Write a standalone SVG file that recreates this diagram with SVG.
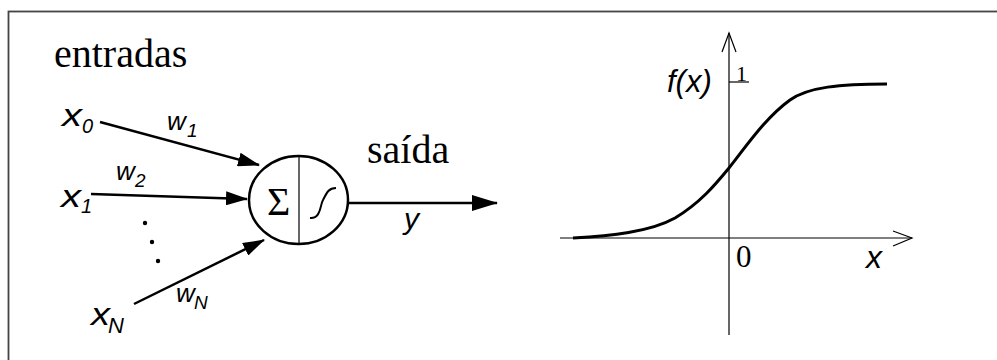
<svg xmlns="http://www.w3.org/2000/svg" width="997" height="360" viewBox="0 0 997 360">
<style>
.sans{font-family:"Liberation Sans",Arial,sans-serif;font-style:italic;fill:#000}
.serif{font-family:"Liberation Serif","Times New Roman",serif;fill:#000}
.conn{stroke:#000;stroke-width:2.5;fill:none}
.axis{stroke:#000;stroke-width:1.2;fill:none}
</style>
<defs>
<marker id="ah" markerUnits="userSpaceOnUse" markerWidth="22" markerHeight="14" refX="21" refY="7" orient="auto">
<path d="M0,0 L22,7 L0,14 z" fill="#000"/>
</marker>
<marker id="ahbig" markerUnits="userSpaceOnUse" markerWidth="26" markerHeight="16" refX="25" refY="8" orient="auto">
<path d="M0,0 L26,8 L0,16 z" fill="#000"/>
</marker>
</defs>
<rect x="0" y="0" width="997" height="360" fill="#fff"/>
<rect x="8.5" y="11.5" width="1000" height="400" fill="none" stroke="#444" stroke-width="1.8"/>

<g id="title-entradas"><text class="serif" x="54" y="67" font-size="40">entradas</text></g>

<g id="input-x0">
<text class="sans" x="62" y="126" font-size="31" textLength="20" lengthAdjust="spacingAndGlyphs">x</text>
<text class="sans" x="82" y="133" font-size="20">0</text>
</g>
<g id="input-x1">
<text class="sans" x="61" y="207" font-size="31" textLength="20" lengthAdjust="spacingAndGlyphs">x</text>
<text class="sans" x="81" y="213" font-size="20">1</text>
</g>
<g id="input-xN">
<text class="sans" x="91" y="325" font-size="31" textLength="19" lengthAdjust="spacingAndGlyphs">x</text>
<text class="sans" x="108" y="333" font-size="22">N</text>
</g>
<g id="dots">
<circle cx="145" cy="223" r="2.2" fill="#000"/>
<circle cx="152" cy="242" r="2.2" fill="#000"/>
<circle cx="158" cy="261" r="2.2" fill="#000"/>
</g>

<g id="connectors">
<line class="conn" x1="100" y1="122" x2="259" y2="165" marker-end="url(#ah)"/>
<line class="conn" x1="91" y1="194" x2="247" y2="199" marker-end="url(#ah)"/>
<line class="conn" x1="134" y1="304" x2="264" y2="240" marker-end="url(#ah)"/>
<line class="conn" x1="348" y1="203" x2="497" y2="203" marker-end="url(#ahbig)"/>
</g>

<g id="weights">
<text class="sans" x="167" y="130" font-size="26">w</text>
<text class="sans" x="187" y="137" font-size="19">1</text>
<text class="sans" x="116" y="180" font-size="26">w</text>
<text class="sans" x="135" y="187" font-size="19">2</text>
<text class="sans" x="176" y="302" font-size="26">w</text>
<text class="sans" x="194" y="309" font-size="19">N</text>
</g>

<g id="neuron">
<ellipse cx="298.5" cy="200" rx="49.5" ry="44" fill="#fff" stroke="#000" stroke-width="2.5"/>
<line x1="299" y1="156" x2="299" y2="244" stroke="#000" stroke-width="1.2"/>
<text class="serif" x="267" y="215" font-size="40">Σ</text>
<path d="M310,218 C321,219 320,205 323,200 C327,192 329,188 336,188" fill="none" stroke="#000" stroke-width="2"/>
</g>

<g id="output">
<text class="serif" x="367" y="163" font-size="40">saída</text>
<text class="sans" x="404" y="229" font-size="30">y</text>
</g>

<g id="graph">
<line class="axis" x1="729" y1="33" x2="729" y2="335"/>
<path class="axis" d="M722,52 L729,33 L736,52"/>
<line class="axis" x1="560" y1="238" x2="912" y2="238"/>
<path class="axis" d="M893,231 L912,238 L893,246"/>
<line class="axis" x1="729" y1="82" x2="749" y2="82"/>
<text class="serif" x="736" y="81" font-size="22">1</text>
<text class="sans" x="667" y="92" font-size="31">f(x)</text>
<text class="serif" x="736" y="267" font-size="31">0</text>
<text class="sans" x="866" y="268" font-size="32">x</text>
<path d="M573,238 C610,236 650,232 675,218 C700,203 715,185 729,168 C745,148 765,118 790,100 C808,87 840,84 887,84" fill="none" stroke="#000" stroke-width="3"/>
</g>
</svg>
